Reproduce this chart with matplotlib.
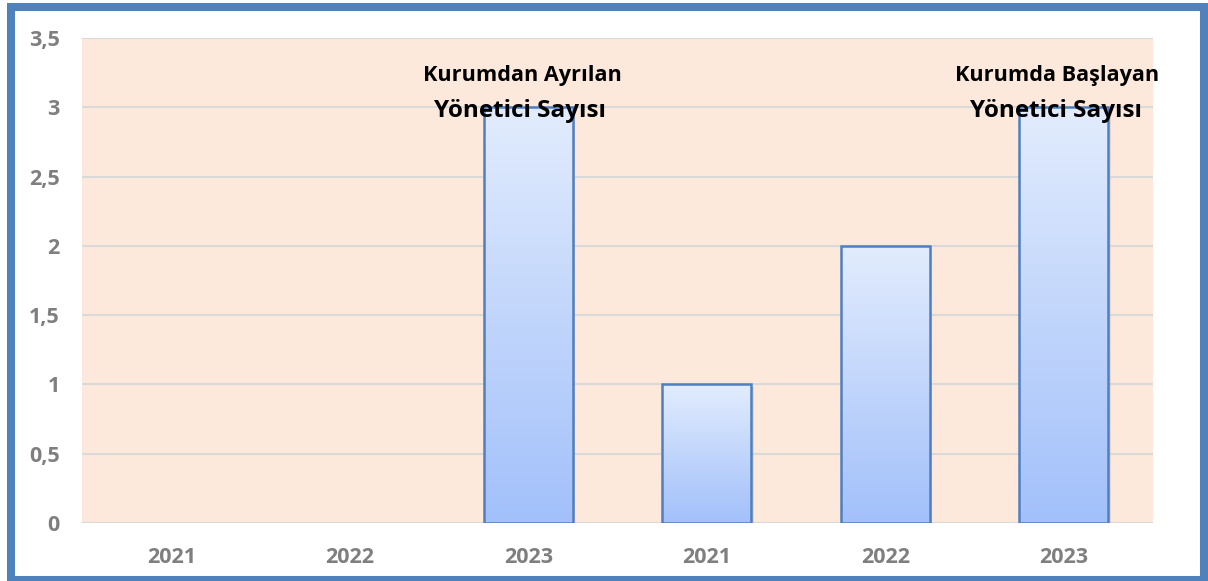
import numpy as np
import matplotlib
matplotlib.use("Agg")
import matplotlib.pyplot as plt
from matplotlib.colors import LinearSegmentedColormap
from matplotlib.patches import Rectangle

years = ["2021", "2022", "2023", "2021", "2022", "2023"]
values = [0, 0, 3, 1, 2, 3]
group_labels = [("Kurumdan Ayrılan", "Yönetici Sayısı"), ("Kurumda Başlayan", "Yönetici Sayısı")]
label_at = [2, 5]

plt.rcParams['font.family'] = ['Open Sans', 'DejaVu Sans']

fig = plt.figure(figsize=(12.08, 5.81), dpi=100)
ax = fig.add_axes([82 / 1208, 1 - 523 / 581, (1153 - 82) / 1208, (523 - 38) / 581])
ax.set_facecolor("#FCE9DB")

x = np.arange(len(values))
bar_w = 0.5
cmap = LinearSegmentedColormap.from_list("bar", ["#A2C0FA", "#E2ECFD"])
grad = np.linspace(0, 1, 256).reshape(-1, 1)

edges = ["#4F7FC0" if v > 0 else "none" for v in values]
bars = ax.bar(x, values, width=bar_w, facecolor="none", edgecolor=edges,
              linewidth=1.8, zorder=3)
for b, v in zip(bars, values):
    if v <= 0:
        continue
    x0 = b.get_x()
    # soft shadow on the right side
    ax.add_patch(Rectangle((x0 + 0.012, -0.02), bar_w, v, facecolor="#D8C8BE",
                           edgecolor="none", alpha=0.6, zorder=2))
    im = ax.imshow(grad, extent=[x0, x0 + bar_w, 0, v], origin="lower", cmap=cmap,
                   aspect="auto", zorder=2.5)
    im.set_clip_path(b)

ax.set_xlim(-0.5, len(values) - 0.5)
ax.set_ylim(0, 3.5)
ax.set_yticks(np.arange(0, 3.51, 0.5))
ax.set_yticklabels([("%g" % t).replace(".", ",") for t in np.arange(0, 3.51, 0.5)])
ax.set_xticks(x)
ax.set_xticklabels(years)
ax.grid(axis="y", color="#D9D9D9", linewidth=1.5, zorder=1)
ax.set_axisbelow(True)
for s in ax.spines.values():
    s.set_visible(False)
ax.tick_params(length=0, labelsize=15.5, labelcolor="#7F7F7F")
ax.tick_params(axis="y", pad=16)
ax.tick_params(axis="x", pad=17)
for t in ax.get_xticklabels() + ax.get_yticklabels():
    t.set_fontweight("bold")

for i, (l1, l2) in zip(label_at, group_labels):
    ax.text(i - 0.035, 3.23, l1, ha="center", va="center", fontsize=15.6, fontweight="bold",
            color="black", zorder=5, clip_on=False)
    ax.text(i - 0.045, 2.97, l2, ha="center", va="center", fontsize=17.5, fontweight="bold",
            color="black", zorder=5, clip_on=False)

fig.patches.append(Rectangle((11 / 1208, 1 - 580 / 581), (1204 - 11) / 1208, (580 - 6.5) / 581,
                             transform=fig.transFigure, fill=False, edgecolor="#4F81BD",
                             linewidth=5.8, zorder=10))

fig.savefig("out.png", dpi=100)
